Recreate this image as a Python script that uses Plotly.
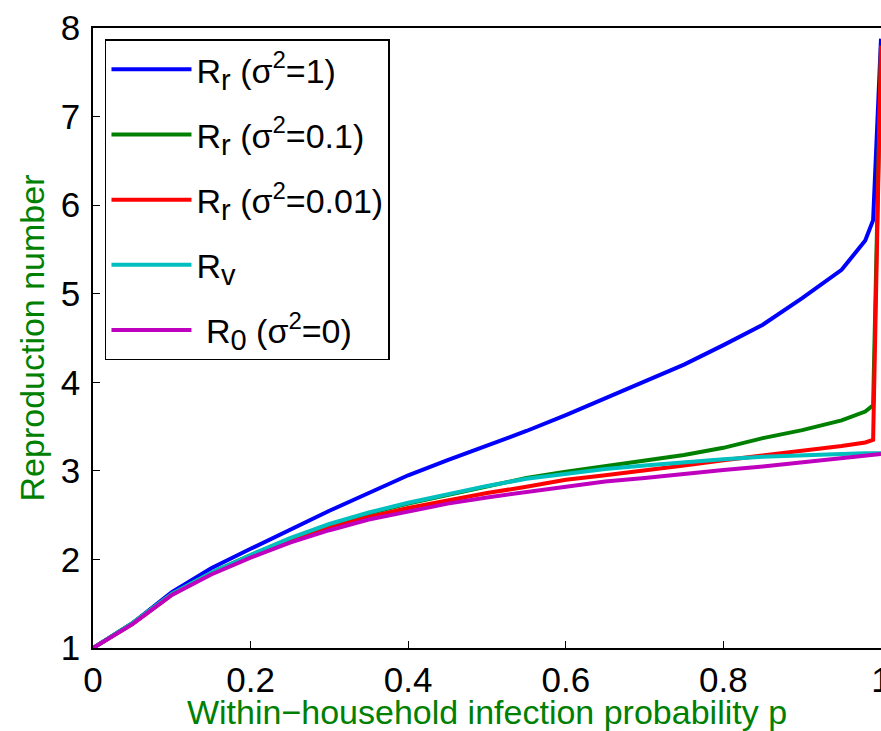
import plotly.graph_objects as go

p = [0.00, 0.05, 0.10, 0.15, 0.20, 0.25, 0.30, 0.35, 0.40, 0.45, 0.50,
     0.55, 0.60, 0.65, 0.70, 0.75, 0.80, 0.85, 0.90, 0.95, 0.98, 0.99, 1.00]

r_sigma1 = [1.00, 1.28, 1.63, 1.90, 2.12, 2.34, 2.55, 2.75, 2.95, 3.12, 3.28,
            3.45, 3.63, 3.82, 4.00, 4.20, 4.42, 4.65, 4.95, 5.27, 5.60, 5.83, 7.88]
r_sigma01 = [1.00, 1.28, 1.61, 1.85, 2.05, 2.23, 2.39, 2.52, 2.63, 2.73, 2.82,
             2.92, 2.99, 3.05, 3.11, 3.18, 3.26, 3.37, 3.46, 3.57, 3.67, 3.74, 7.80]
r_sigma001 = [1.00, 1.27, 1.60, 1.84, 2.03, 2.21, 2.36, 2.48, 2.58, 2.67, 2.75,
              2.82, 2.90, 2.95, 3.00, 3.06, 3.12, 3.17, 3.22, 3.28, 3.32, 3.35, 7.80]
r_v = [1.00, 1.28, 1.61, 1.85, 2.05, 2.24, 2.40, 2.53, 2.64, 2.74, 2.83,
       2.91, 2.97, 3.02, 3.06, 3.10, 3.13, 3.16, 3.18, 3.19, 3.20, 3.20, 3.20]
r_0 = [1.00, 1.27, 1.60, 1.83, 2.02, 2.19, 2.33, 2.45, 2.54, 2.63, 2.70,
       2.76, 2.83, 2.88, 2.92, 2.97, 3.01, 3.05, 3.10, 3.15, 3.17, 3.18, 3.19]

SUB = "<sub><span style='font-size:29px'>{}</span></sub>"
SUP = "<sup><span style='font-size:24px'>{}</span></sup>"

series = [
    ("R" + SUB.format("r") + " (σ" + SUP.format("2") + "=1)", r_sigma1, "#0000FF"),
    ("R" + SUB.format("r") + " (σ" + SUP.format("2") + "=0.1)", r_sigma01, "#008000"),
    ("R" + SUB.format("r") + " (σ" + SUP.format("2") + "=0.01)", r_sigma001, "#FF0000"),
    ("R" + SUB.format("v"), r_v, "#00BFBF"),
    (" R" + SUB.format("0") + " (σ" + SUP.format("2") + "=0)", r_0, "#BF00BF"),
]

x_ticks = [0, 0.2, 0.4, 0.6, 0.8, 1]
x_tick_labels = ["0", "0.2", "0.4", "0.6", "0.8", "1"]
y_ticks = [1, 2, 3, 4, 5, 6, 7, 8]

fig = go.Figure()
for i, (name, vals, color) in enumerate(series):
    fig.add_trace(go.Scatter(x=p, y=vals, mode="lines", name=name,
                             legendgroup=f"g{i}",
                             line=dict(color=color, width=4)))

axis_common = dict(showline=True, linecolor="black", linewidth=1.5, mirror=True,
                   ticks="inside", ticklen=7, tickcolor="black", tickwidth=1,
                   showgrid=False, zeroline=False, automargin=False,
                   tickfont=dict(family="Liberation Sans, Arial", size=35, color="black"))

fig.update_layout(
    width=881, height=731,
    margin=dict(l=93, r=0, t=28, b=83),
    paper_bgcolor="white", plot_bgcolor="white",
    xaxis=dict(range=[0, 1], tickvals=x_ticks, ticktext=x_tick_labels,
               ticklabeloverflow="allow",
               title=dict(text="Within−household infection probability p",
                          font=dict(family="Liberation Sans, Arial", size=34, color="#008000"),
                          standoff=6),
               **axis_common),
    yaxis=dict(range=[1, 8], tickvals=y_ticks, ticklabelstandoff=4,
               title=dict(text="Reproduction number",
                          font=dict(family="Liberation Sans, Arial", size=34, color="#008000"),
                          standoff=6),
               **axis_common),
    legend=dict(x=0.0152, y=0.982, xanchor="left", yanchor="top",
                bgcolor="white", bordercolor="black", borderwidth=1.5,
                font=dict(family="Liberation Sans, Arial", size=34, color="black"),
                itemwidth=80, tracegroupgap=18),
    showlegend=True,
)

fig.write_html("out.html", config={"displayModeBar": False},
               post_script="document.body.style.margin='0';document.body.style.overflow='hidden';")
